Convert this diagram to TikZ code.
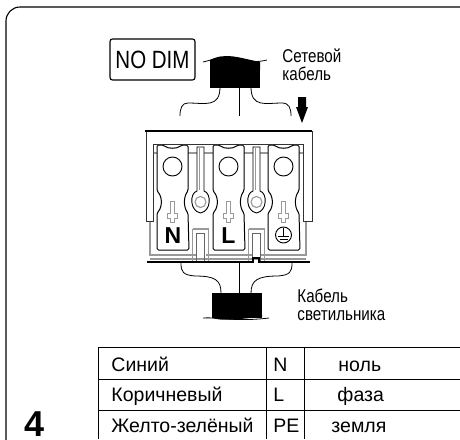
\documentclass[tikz,border=0pt]{standalone}
\usepackage{fontspec}
\setmainfont{Liberation Sans}
\newfontfamily\narrowfont[FakeStretch=0.82]{Liberation Sans}
\begin{document}
\begin{tikzpicture}[x=1pt, y=-1pt, line width=0.9pt,
             cell/.style = {anchor=base west, inner sep=0pt, font=\fontsize{19.5}{21}\selectfont},
             caption/.style = {anchor=base west, inner sep=0pt, font=\narrowfont\fontsize{18.5}{20}\selectfont},
             letter/.style = {inner sep=0pt, font=\bfseries\fontsize{23}{25}\selectfont},
             wire/.style = {line width=0.8pt},
             plug/.style = {fill=black, inner sep=0pt, minimum width=50pt, minimum height=25pt},
             pale/.style = {draw=black!40, line width=1.1pt},
             terminal/.pic = {
                \draw[black, line width=1pt, fill=white, rounded corners=1.5pt]
                    (-15.5,0) -- (-9,0) .. controls (-5,4) and (5,4) .. (9,0) -- (15.5,0) -- (15.5,46)
                    .. controls (11,52) and (11,62) .. (15.5,68) -- (16.5,105) -- (-15.5,105) -- (-15.5,68)
                    .. controls (-10,62) and (-10,52) .. (-15.5,46) -- cycle;
                \draw (0,21.5) circle (9.5);
                \draw[pale, line width=0.9pt] (-2,56) -- (-2,68) -- (-5,68) -- (-5,73) -- (-2,73) -- (-2,77)
                    -- (2,77) -- (2,73) -- (5,73) -- (5,68) -- (2,68) -- (2,56) -- cycle;
             },
             screwkey/.pic = {
                \draw[fill=white] (-3.5,-55) -- (-3.5,-11) .. controls (-11,-9) and (-11,9) .. (0,11)
                    .. controls (11,9) and (11,-9) .. (3.5,-11) -- (3.5,-55) -- cycle;
                \draw[pale] (-1,-54) -- (-1,-12);
                \draw[pale] (0,0) circle (5.5);
                \draw[pale] (-8,27) -- (-8,60);
                \draw[pale] (8,27) -- (8,60);
                \draw[pale] (-8,27) -- (8,27);
                \draw[draw=black!60, line width=0.6pt] (-4,31) -- (-4,60);
                \draw[draw=black!60, line width=0.6pt] (4,31) -- (4,60);
                \draw[draw=black!60, line width=0.6pt] (-4,31) -- (4,31);
             }]
            \useasboundingbox (0,0) rectangle (460,439);

            % Cornice
            \draw[line width=1.1pt, rounded corners=14pt] (6,445) -- (6,7) -- (470,7);
            \node[draw, rounded corners=2.5pt, line width=1.1pt, minimum width=85pt, minimum height=41pt, inner sep=0pt,
                font=\narrowfont\fontsize{25}{26}\selectfont] (nodim) at (152.5,59.5) {NO DIM};

            % Cavo di rete
            \node[plug] (plugtop) at (235,75) {};
            \fill (210,60) .. controls (225,52) and (240,58) .. (260,62) -- (260,70) -- (210,70) -- cycle;
            \draw[wire] (203,62) .. controls (212,60) and (225,55) .. (238,58) .. controls (248,61) and (255,63) .. (267,60);
            \node[caption] (mains1) at (282,62) {Сетевой};
            \node[caption] (mains2) at (282,80) {кабель};

            \coordinate (topl) at (220,87);
            \coordinate (topm) at (239,87);
            \coordinate (topr) at (251,87);
            \coordinate (endl) at (180,116);
            \coordinate (endm) at (239,116);
            \coordinate (endr) at (291,116);
            \draw[wire] (topl) .. controls (220,108) and (205,103) .. (188,103) .. controls (182,103) and (180,108) .. (endl);
            \draw[wire] (topm) -- (endm);
            \draw[wire] (topr) .. controls (251,108) and (266,103) .. (282,103) .. controls (289,103) and (291,108) .. (endr);

            % Freccia
            \fill (298,97) -- (306,97) -- (306,107) -- (308,107) -- (302,123) -- (296,107) -- (298,107) -- cycle;

            % Morsettiera
            \draw[pale] (150,221) -- (150,255) -- (196,255);
            \draw[pale] (206,255) -- (252,255);
            \draw[pale] (260,255) -- (306,255) -- (306,221);
            \draw[pale] (150,259) -- (306,259);
            \draw[pale] (153,153) -- (303,153);
            \pic at (172.5,145) {terminal};
            \pic at (228.5,145) {terminal};
            \pic at (283.5,145) {terminal};
            \pic at (200.5,202) {screwkey};
            \pic at (256.5,202) {screwkey};
            \draw[line width=1pt, draw=black!80] (146,131) -- (146,221) -- (153,221) -- (153,144) -- (303,144) -- (303,221) -- (312,221) -- (312,131);
            \draw[line width=2pt] (145,130.5) -- (312,130.5);
            \draw[line width=1.6pt] (147,262) -- (253,262) -- (253,258) -- (259,258) -- (259,262) -- (310,262);

            \node[letter] (letn) at (173,235.5) {N};
            \node[letter] (letl) at (228.5,235.5) {L};
            \node[draw, circle, minimum size=16pt, inner sep=0pt] (earth) at (283.5,235) {};
            \draw[line width=0.8pt] (283.5,228) -- (283.5,236);
            \draw[line width=0.8pt] (278,236.5) -- (289,236.5);
            \draw[line width=0.8pt] (279.5,239) -- (287.5,239);

            % Cavo lampada
            \node[plug] (plugbot) at (237,305) {};
            \fill (212,315) -- (212,318) .. controls (225,322) and (245,318) .. (262,317) -- (262,315) -- cycle;
            \draw[wire] (203,318) .. controls (220,317) and (235,322) .. (269,318);
            \node[caption] (lamp1) at (297,302) {Кабель};
            \node[caption] (lamp2) at (297,320) {светильника};

            \coordinate (botl) at (221,293);
            \coordinate (botm) at (239,293);
            \coordinate (botr) at (251,293);
            \coordinate (basl) at (181,263);
            \coordinate (basm) at (239,263);
            \coordinate (basr) at (292,263);
            \draw[wire] (basl) .. controls (181,272) and (183,275) .. (195,276) .. controls (215,276) and (221,280) .. (botl);
            \draw[wire] (basm) -- (botm);
            \draw[wire] (basr) .. controls (292,272) and (290,275) .. (278,276) .. controls (258,276) and (251,280) .. (botr);

            % Tabella
            \draw[line width=0.8pt] (98,439) -- (98,347) -- (460,347);
            \draw[line width=0.8pt] (98,379) -- (460,379);
            \draw[line width=0.8pt] (98,410) -- (460,410);
            \draw[line width=0.8pt] (266,347) -- (266,439);
            \draw[line width=0.8pt] (304,347) -- (304,439);

            \node[cell] (blue) at (111,371) {Синий};
            \node[cell] (brown) at (111,401) {Коричневый};
            \node[cell] (green) at (111,432) {Желто-зелёный};
            \node[cell] (symn) at (273,371) {N};
            \node[cell] (syml) at (273,401) {L};
            \node[cell] (sympe) at (273,432) {PE};
            \node[cell] (zero) at (338,371) {ноль};
            \node[cell] (phase) at (337,401) {фаза};
            \node[cell] (ground) at (331,432) {земля};

            \node[anchor=base west, inner sep=0pt, font=\bfseries\fontsize{36}{38}\selectfont] (num) at (24,436) {4};
        \end{tikzpicture}
\end{document}
